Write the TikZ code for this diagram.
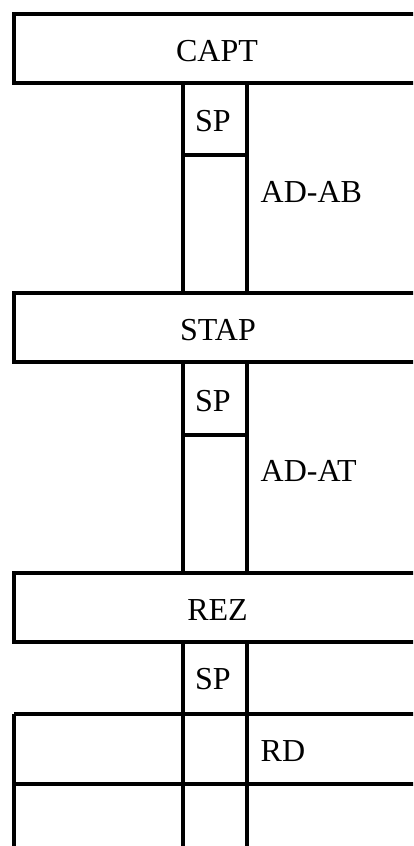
\documentclass[tikz,border=0pt]{standalone}
\usepackage{fontspec}
\setmainfont{Liberation Serif}
\begin{document}
\begin{tikzpicture}[x=1pt,y=-1pt,
  lw/.style={line width=3.9pt},
  lbl/.style={anchor=base,inner sep=0pt,font=\fontsize{32}{38}\selectfont},
  lblw/.style={anchor=base west,inner sep=0pt,font=\fontsize{32}{38}\selectfont}]
\useasboundingbox (0,0) rectangle (413,846);
\clip (0,0) rectangle (413,846);
% layer boxes
\draw[lw] (14,14) rectangle (421,83);
\draw[lw] (14,293) rectangle (421,362);
\draw[lw] (14,573) rectangle (421,642);
% columns
\coordinate (c1t) at (183,83);  \coordinate (c1b) at (183,293);
\coordinate (c2t) at (247,83);  \coordinate (c2b) at (247,293);
\draw[lw] (c1t) -- (c1b); \draw[lw] (c2t) -- (c2b);
\draw[lw] (183,155) -- (247,155);
\coordinate (d1t) at (183,362); \coordinate (d1b) at (183,573);
\coordinate (d2t) at (247,362); \coordinate (d2b) at (247,573);
\draw[lw] (d1t) -- (d1b); \draw[lw] (d2t) -- (d2b);
\draw[lw] (183,435) -- (247,435);
\draw[lw] (183,642) -- (183,850);
\draw[lw] (247,642) -- (247,850);
\draw[lw] (14,714) -- (421,714);
\draw[lw] (14,784) -- (421,784);
\draw[lw] (14,714) -- (14,850);
% labels
\node[lbl] (capt) at (217,61) {CAPT};
\node[lbl] (sp1) at (213,131) {SP};
\node[lblw] (adab) at (260.5,202) {AD-AB};
\node[lbl] (stap) at (218,340) {STAP};
\node[lbl] (sp2) at (213,411) {SP};
\node[lblw] (adat) at (260.5,481) {AD-AT};
\node[lbl] (rez) at (217.5,620) {REZ};
\node[lbl] (sp3) at (213,689) {SP};
\node[lblw] (rd) at (260.5,761) {RD};
\end{tikzpicture}
\end{document}
